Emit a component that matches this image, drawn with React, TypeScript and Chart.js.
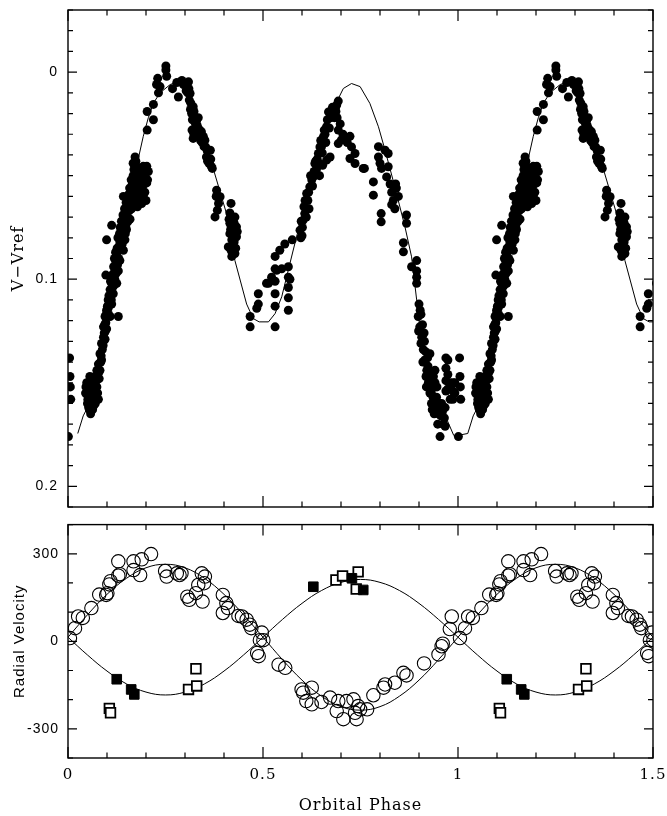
import React, { useEffect, useRef } from "react";
import { Chart, registerables } from "chart.js";

Chart.register(...registerables);

// ---------- Light curve (phase, V - Vref), one orbital cycle ----------
const lightCurve: [number, number][] = [
  [0.001, 0.176], [0.004, 0.138], [0.005, 0.147], [0.006, 0.152], [0.007, 0.158],
  [0.045, 0.155], [0.048, 0.150], [0.050, 0.160], [0.052, 0.157], [0.053, 0.162], [0.056, 0.147], [0.056, 0.154],
  [0.058, 0.165], [0.060, 0.153], [0.061, 0.158], [0.063, 0.163], [0.065, 0.150], [0.065, 0.157], [0.069, 0.147],
  [0.069, 0.153], [0.070, 0.160], [0.074, 0.144], [0.074, 0.152], [0.078, 0.141], [0.078, 0.158], [0.080, 0.148],
  [0.046, 0.152], [0.051, 0.158], [0.055, 0.163], [0.059, 0.161], [0.062, 0.148], [0.066, 0.161], [0.071, 0.149],
  [0.076, 0.155],
  [0.082, 0.136], [0.082, 0.144], [0.086, 0.131], [0.086, 0.139], [0.088, 0.134], [0.091, 0.123], [0.091, 0.128],
  [0.093, 0.126], [0.095, 0.118], [0.095, 0.129], [0.097, 0.121], [0.099, 0.115], [0.099, 0.124], [0.101, 0.113],
  [0.103, 0.110], [0.105, 0.108], [0.108, 0.105], [0.108, 0.118], [0.110, 0.108], [0.112, 0.102], [0.112, 0.112],
  [0.114, 0.104], [0.116, 0.099], [0.116, 0.107], [0.118, 0.097], [0.120, 0.100], [0.121, 0.094], [0.123, 0.092],
  [0.125, 0.089], [0.125, 0.102], [0.127, 0.093], [0.129, 0.086], [0.129, 0.096], [0.131, 0.084], [0.133, 0.082],
  [0.133, 0.091], [0.135, 0.085], [0.136, 0.077], [0.138, 0.079], [0.140, 0.080], [0.142, 0.075], [0.142, 0.086],
  [0.144, 0.073], [0.146, 0.071], [0.146, 0.081], [0.148, 0.074], [0.150, 0.068], [0.150, 0.076], [0.152, 0.070],
  [0.155, 0.065], [0.157, 0.067], [0.159, 0.062], [0.159, 0.071], [0.161, 0.060], [0.163, 0.057], [0.163, 0.066],
  [0.165, 0.054], [0.167, 0.050], [0.167, 0.044], [0.169, 0.047], [0.172, 0.041], [0.172, 0.063],
  [0.084, 0.140], [0.089, 0.131], [0.094, 0.122], [0.098, 0.117], [0.103, 0.114], [0.106, 0.111], [0.109, 0.101],
  [0.113, 0.098], [0.117, 0.094], [0.119, 0.090], [0.122, 0.087], [0.126, 0.085], [0.128, 0.080], [0.132, 0.078],
  [0.134, 0.075], [0.137, 0.072], [0.141, 0.069], [0.145, 0.066], [0.149, 0.063], [0.153, 0.061], [0.156, 0.059],
  [0.158, 0.056], [0.162, 0.052], [0.166, 0.058], [0.160, 0.066], [0.154, 0.072], [0.147, 0.078], [0.139, 0.083],
  [0.130, 0.090], [0.124, 0.097], [0.118, 0.103], [0.111, 0.110], [0.104, 0.117], [0.096, 0.125], [0.090, 0.132],
  [0.085, 0.137], [0.079, 0.145], [0.073, 0.149], [0.067, 0.155], [0.063, 0.152], [0.058, 0.158], [0.054, 0.151],
  [0.097, 0.098], [0.099, 0.081], [0.112, 0.074], [0.129, 0.118], [0.142, 0.060], [0.189, 0.0635],
  [0.172, 0.052], [0.176, 0.0455], [0.176, 0.0535], [0.176, 0.060], [0.178, 0.065], [0.180, 0.050], [0.185, 0.047],
  [0.185, 0.0535], [0.185, 0.057], [0.189, 0.058], [0.193, 0.0455], [0.193, 0.0535], [0.197, 0.0495], [0.197, 0.058],
  [0.200, 0.062], [0.202, 0.0455], [0.202, 0.0535], [0.206, 0.048],
  [0.174, 0.048], [0.182, 0.055], [0.187, 0.051], [0.191, 0.049], [0.195, 0.054], [0.199, 0.052], [0.204, 0.052],
  [0.183, 0.061], [0.179, 0.057], [0.194, 0.061], [0.170, 0.056], [0.174, 0.043],
  [0.203, 0.028], [0.203, 0.019], [0.219, 0.023], [0.219, 0.0156], [0.227, 0.006], [0.230, 0.003], [0.232, 0.010],
  [0.236, 0.007], [0.251, -0.003], [0.251, -0.001], [0.253, 0.002],
  [0.268, 0.008], [0.279, 0.005], [0.283, 0.012], [0.300, 0.0055], [0.303, 0.009], [0.305, 0.007], [0.309, 0.0047],
  [0.311, 0.0135], [0.313, 0.0103], [0.315, 0.015], [0.317, 0.020], [0.321, 0.0167], [0.321, 0.032], [0.325, 0.0216],
  [0.326, 0.028], [0.330, 0.0232], [0.331, 0.0256], [0.336, 0.0312], [0.338, 0.028], [0.342, 0.0288], [0.347, 0.031],
  [0.351, 0.0329], [0.353, 0.0361], [0.355, 0.041], [0.360, 0.0377], [0.362, 0.0441], [0.364, 0.0425], [0.365, 0.0377],
  [0.368, 0.0457], [0.370, 0.0465],
  [0.307, 0.010], [0.310, 0.008], [0.314, 0.018], [0.319, 0.023], [0.323, 0.019], [0.327, 0.025], [0.333, 0.027],
  [0.334, 0.022], [0.340, 0.033], [0.344, 0.034], [0.349, 0.036], [0.357, 0.038], [0.358, 0.043], [0.366, 0.042],
  [0.318, 0.028], [0.323, 0.030], [0.296, 0.006], [0.292, 0.004],
  [0.377, 0.0699], [0.380, 0.060], [0.381, 0.057], [0.383, 0.0667], [0.386, 0.0634], [0.390, 0.0602], [0.411, 0.0844],
  [0.415, 0.068], [0.415, 0.073], [0.415, 0.078], [0.418, 0.0634], [0.418, 0.086], [0.420, 0.081], [0.420, 0.089],
  [0.424, 0.076], [0.424, 0.0844], [0.428, 0.070], [0.428, 0.0876], [0.432, 0.0747], [0.432, 0.0795],
  [0.413, 0.071], [0.417, 0.076], [0.422, 0.079], [0.426, 0.082], [0.430, 0.085], [0.419, 0.084], [0.434, 0.077],
  [0.426, 0.073],
  [0.467, 0.118], [0.467, 0.123], [0.484, 0.114], [0.488, 0.107], [0.488, 0.112], [0.509, 0.102],
  [0.514, 0.102], [0.522, 0.099], [0.531, 0.089], [0.531, 0.095], [0.531, 0.101], [0.531, 0.107], [0.531, 0.113],
  [0.531, 0.123], [0.535, 0.0957], [0.543, 0.086], [0.548, 0.095], [0.556, 0.083], [0.565, 0.094], [0.565, 0.099],
  [0.565, 0.104], [0.565, 0.109], [0.565, 0.115], [0.569, 0.100], [0.575, 0.081],
  [0.595, 0.0763], [0.598, 0.072], [0.600, 0.079], [0.603, 0.0715], [0.607, 0.0683], [0.608, 0.062], [0.610, 0.066],
  [0.612, 0.0586], [0.615, 0.062], [0.620, 0.0554], [0.625, 0.052], [0.629, 0.0506], [0.633, 0.0441], [0.637, 0.047],
  [0.642, 0.0393], [0.646, 0.0361], [0.650, 0.036], [0.655, 0.0312], [0.659, 0.030], [0.663, 0.0264], [0.663, 0.0425],
  [0.668, 0.0192], [0.672, 0.0216], [0.672, 0.041], [0.676, 0.0184], [0.680, 0.020], [0.685, 0.0175], [0.689, 0.0159],
  [0.690, 0.022], [0.693, 0.014],
  [0.597, 0.080], [0.601, 0.075], [0.605, 0.065], [0.611, 0.070], [0.617, 0.058], [0.622, 0.050], [0.627, 0.055],
  [0.631, 0.048], [0.635, 0.043], [0.639, 0.042], [0.644, 0.044], [0.648, 0.033], [0.652, 0.039], [0.657, 0.028],
  [0.661, 0.034], [0.665, 0.023], [0.670, 0.027], [0.674, 0.022], [0.678, 0.017], [0.683, 0.022], [0.687, 0.019],
  [0.645, 0.050], [0.653, 0.045], [0.618, 0.066],
  [0.693, 0.028], [0.693, 0.0345], [0.698, 0.025], [0.701, 0.0328], [0.705, 0.030], [0.710, 0.032], [0.716, 0.034],
  [0.723, 0.031], [0.723, 0.0417], [0.727, 0.0361], [0.736, 0.0393], [0.736, 0.0441], [0.757, 0.0465], [0.760, 0.0465],
  [0.783, 0.053], [0.783, 0.0594], [0.796, 0.036], [0.796, 0.041], [0.800, 0.044], [0.803, 0.0683], [0.803, 0.0723],
  [0.804, 0.0465], [0.813, 0.0377], [0.817, 0.0506], [0.821, 0.0393], [0.821, 0.0457], [0.826, 0.054], [0.830, 0.058],
  [0.830, 0.064], [0.834, 0.062], [0.838, 0.066], [0.840, 0.054], [0.842, 0.056], [0.847, 0.060], [0.860, 0.0824],
  [0.860, 0.0868], [0.868, 0.069], [0.868, 0.073], [0.881, 0.094], [0.894, 0.091], [0.894, 0.096], [0.894, 0.099],
  [0.894, 0.102],
  [0.898, 0.118], [0.900, 0.112], [0.902, 0.123], [0.905, 0.117], [0.905, 0.131], [0.907, 0.128], [0.911, 0.134],
  [0.913, 0.126], [0.915, 0.139], [0.918, 0.147], [0.920, 0.144], [0.922, 0.138], [0.924, 0.150], [0.926, 0.145],
  [0.928, 0.136], [0.928, 0.155], [0.932, 0.160], [0.935, 0.152], [0.936, 0.157], [0.939, 0.165], [0.941, 0.144],
  [0.941, 0.150], [0.945, 0.157], [0.948, 0.170], [0.950, 0.165], [0.954, 0.176], [0.958, 0.160], [0.965, 0.167],
  [0.967, 0.162], [0.967, 0.171],
  [0.899, 0.125], [0.903, 0.115], [0.909, 0.122], [0.910, 0.140], [0.914, 0.130], [0.917, 0.135], [0.919, 0.152],
  [0.923, 0.142], [0.927, 0.150], [0.930, 0.145], [0.931, 0.154], [0.934, 0.163], [0.937, 0.147], [0.940, 0.158],
  [0.943, 0.162], [0.946, 0.152], [0.952, 0.160], [0.956, 0.166], [0.962, 0.170], [0.960, 0.164],
  [0.969, 0.138], [0.969, 0.143], [0.969, 0.149], [0.969, 0.154], [0.974, 0.139], [0.974, 0.146], [0.974, 0.153],
  [0.980, 0.150], [0.980, 0.158], [0.987, 0.150], [0.987, 0.154], [0.987, 0.158], [0.992, 0.150], [0.992, 0.155],
];

// Light-curve model (phase, V - Vref), one cycle
const lightModel: [number, number][] = [
  [0.0, 0.1754], [0.025, 0.1745], [0.039, 0.166], [0.05, 0.162], [0.075, 0.145], [0.1, 0.122], [0.125, 0.097],
  [0.15, 0.073], [0.18, 0.042], [0.193, 0.031], [0.206, 0.022], [0.219, 0.015], [0.236, 0.010], [0.262, 0.006],
  [0.28, 0.0047], [0.3, 0.0055], [0.33, 0.0216], [0.373, 0.047], [0.406, 0.068], [0.428, 0.091], [0.458, 0.112],
  [0.475, 0.119], [0.49, 0.1206], [0.514, 0.1206], [0.531, 0.1166], [0.548, 0.1085], [0.569, 0.0924],
  [0.586, 0.0795], [0.612, 0.0618], [0.633, 0.0473], [0.659, 0.0296], [0.685, 0.0159], [0.706, 0.0079],
  [0.727, 0.0055], [0.749, 0.007], [0.774, 0.0151], [0.796, 0.0264], [0.813, 0.0377], [0.838, 0.0554],
  [0.864, 0.0747], [0.881, 0.0892], [0.894, 0.110], [0.907, 0.131], [0.924, 0.144], [0.95, 0.160], [0.972, 0.168],
  [0.989, 0.1754], [1.0, 0.1754],
];

// ---------- Radial velocities ----------
const rvPrimary: [number, number][] = [
  [0.005, 11], [0.018, 45], [0.026, 85], [0.038, 80], [0.060, 114], [0.080, 160], [0.098, 159], [0.101, 165],
  [0.106, 195], [0.109, 206], [0.129, 225], [0.129, 274], [0.133, 230], [0.168, 244], [0.168, 274], [0.185, 227],
  [0.189, 281], [0.213, 299], [0.249, 241], [0.253, 222], [0.279, 233], [0.286, 227], [0.291, 233], [0.306, 153],
  [0.311, 142], [0.328, 165], [0.334, 193], [0.343, 233], [0.345, 136], [0.349, 199], [0.351, 222], [0.397, 159],
  [0.397, 97], [0.406, 131], [0.410, 114], [0.437, 87], [0.446, 85], [0.458, 74], [0.466, 57], [0.470, 45],
  [0.497, 30], [0.492, 4], [0.501, 4], [0.485, -40], [0.489, -51], [0.540, -80], [0.557, -91], [0.599, -165],
  [0.603, -176], [0.611, -205], [0.625, -159], [0.625, -216], [0.650, -208], [0.672, -193], [0.689, -239],
  [0.693, -205], [0.706, -267], [0.714, -205], [0.732, -199], [0.736, -245], [0.740, -267], [0.744, -222],
  [0.749, -233], [0.767, -233], [0.783, -185], [0.809, -159], [0.813, -148], [0.838, -142], [0.860, -108],
  [0.868, -117], [0.913, -76], [0.950, -45], [0.958, -17], [0.961, -8], [0.979, 42], [0.984, 85],
];
const rvSecondaryOpen: [number, number][] = [
  [0.106, -230], [0.109, -245], [0.309, -165], [0.330, -153], [0.328, -94], [0.687, 210], [0.704, 224],
  [0.739, 179], [0.744, 238],
];
const rvSecondaryFilled: [number, number][] = [
  [0.125, -130], [0.162, -165], [0.170, -182], [0.629, 187], [0.728, 216], [0.757, 176],
];

// Orbit solutions (km/s) at these phases
const rvModelPhase = [0, 0.05, 0.1, 0.15, 0.2, 0.25, 0.3, 0.35, 0.4, 0.45, 0.5, 0.55, 0.6, 0.65, 0.7, 0.75, 0.8, 0.85, 0.9, 0.95, 1.0];
const rvPrimaryModel = [14, 91, 161, 216, 252, 264, 252, 216, 161, 91, 14, -63, -133, -188, -224, -236, -224, -188, -133, -63, 14];
const rvSecondaryModel = [14, -47, -102, -146, -174, -184, -174, -146, -102, -47, 14, 75, 130, 174, 202, 212, 202, 174, 130, 75, 14];

// ---------- Axes ----------
const phaseTicks = [0, 0.5, 1, 1.5];
const lightTicks = [0, 0.1, 0.2];
const rvTicks = [-300, 0, 300];
const xLabel = "Orbital Phase";
const lightLabel = "V\u2212Vref";
const rvLabel = "Radial Velocity";

type P = { x: number; y: number };
const toPts = (a: [number, number][]): P[] => a.map(([x, y]) => ({ x, y }));
// data are phase-folded; the plot repeats phases 0-0.5 at 1-1.5
const repeatHalf = (a: [number, number][]): P[] => [
  ...toPts(a),
  ...a.filter(([x]) => x <= 0.52).map(([x, y]) => ({ x: x + 1, y })),
];

const framePlugin = {
  id: "frame",
  beforeDraw(chart: any) {
    (chart.ctx as any).letterSpacing = "1px";
  },
  afterDatasetsDraw(chart: any, _args: any, opts: any) {
    const { ctx, chartArea: a } = chart;
    const xs = chart.scales.x;
    const ys = chart.scales.y;
    const isMajor = (v: number, m: number) => Math.abs(v / m - Math.round(v / m)) < 1e-6;
    ctx.save();
    ctx.strokeStyle = "#000";
    ctx.lineWidth = 1.2;
    ctx.beginPath();
    const x0 = Math.ceil(xs.min / opts.xMinor - 1e-6);
    const x1 = Math.floor(xs.max / opts.xMinor + 1e-6);
    for (let i = x0; i <= x1; i++) {
      const v = i * opts.xMinor;
      const px = xs.getPixelForValue(v);
      const len = isMajor(v, opts.xMajor) ? 11 : 5.5;
      ctx.moveTo(px, a.top);
      ctx.lineTo(px, a.top + len);
      ctx.moveTo(px, a.bottom);
      ctx.lineTo(px, a.bottom - len);
    }
    const y0 = Math.ceil(ys.min / opts.yMinor - 1e-6);
    const y1 = Math.floor(ys.max / opts.yMinor + 1e-6);
    for (let i = y0; i <= y1; i++) {
      const v = i * opts.yMinor;
      const py = ys.getPixelForValue(v);
      const len = isMajor(v, opts.yMajor) ? 9 : 5;
      ctx.moveTo(a.left, py);
      ctx.lineTo(a.left + len, py);
      ctx.moveTo(a.right, py);
      ctx.lineTo(a.right - len, py);
    }
    ctx.stroke();
    ctx.lineWidth = 1.4;
    ctx.strokeRect(a.left, a.top, a.right - a.left, a.bottom - a.top);
    ctx.restore();
  },
};

const sans = "'Liberation Sans', Arial, sans-serif";
const serif = "'DejaVu Serif', serif";

const noPad = (s: any) => {
  s.paddingTop = 0;
  s.paddingBottom = 0;
  s.paddingLeft = 0;
  s.paddingRight = 0;
};

export default function App() {
  const topRef = useRef<HTMLCanvasElement>(null);
  const botRef = useRef<HTMLCanvasElement>(null);

  useEffect(() => {
    const modelTop: P[] = [
      ...toPts(lightModel.filter(([x]) => x >= 0.02)),
      ...lightModel.filter(([x]) => x <= 0.52).map(([x, y]) => ({ x: x + 1, y })),
    ];
    const c1 = new Chart(topRef.current!, {
      type: "scatter",
      data: {
        datasets: [
          {
            data: repeatHalf(lightCurve),
            pointRadius: 4.5,
            pointBackgroundColor: "#000",
            pointBorderWidth: 0,
            clip: 0,
          } as any,
          {
            data: modelTop,
            showLine: true,
            borderColor: "#000",
            borderWidth: 1,
            pointRadius: 0,
            tension: 0,
            clip: 0,
          } as any,
        ],
      },
      options: {
        animation: false,
        responsive: false,
        events: [],
        layout: { padding: { left: 0, right: 14, top: 10, bottom: 0 } },
        plugins: {
          legend: { display: false },
          tooltip: { enabled: false },
          frame: { xMinor: 0.1, xMajor: 0.5, yMinor: 0.01, yMajor: 0.1 },
        } as any,
        scales: {
          x: {
            type: "linear",
            min: 0,
            max: 1.5,
            grid: { display: false, drawTicks: false },
            border: { display: false },
            ticks: { display: false },
            afterFit: (s: any) => {
              s.height = 9;
              noPad(s);
            },
          },
          y: {
            type: "linear",
            reverse: true,
            min: -0.03,
            max: 0.21,
            grid: { display: false, drawTicks: false },
            border: { display: false },
            afterBuildTicks: (s: any) => {
              s.ticks = lightTicks.map((v) => ({ value: v }));
            },
            ticks: {
              padding: 10,
              color: "#000",
              font: { family: sans, size: 14 },
              callback: (v: any) => String(Math.round(Number(v) * 100) / 100),
            },
            title: {
              display: true,
              text: lightLabel,
              color: "#000",
              font: { family: serif, size: 16 },
              padding: { top: 9, bottom: 0 },
            },
            afterFit: (s: any) => {
              s.width = 68;
              noPad(s);
            },
          },
        },
      } as any,
      plugins: [framePlugin],
    });

    const modelPts = (vals: number[]): P[] => [
      ...rvModelPhase.map((x, i) => ({ x, y: vals[i] })),
      ...rvModelPhase.slice(1, 11).map((x, i) => ({ x: x + 1, y: vals[i + 1] })),
    ];

    const c2 = new Chart(botRef.current!, {
      type: "scatter",
      data: {
        datasets: [
          {
            data: repeatHalf(rvSecondaryFilled),
            pointStyle: "rect",
            pointRadius: 6.8,
            pointBackgroundColor: "#000",
            pointBorderColor: "#000",
            pointBorderWidth: 1,
            clip: 0,
          } as any,
          {
            data: repeatHalf(rvSecondaryOpen),
            pointStyle: "rect",
            pointRadius: 6.8,
            pointBackgroundColor: "#fff",
            pointBorderColor: "#000",
            pointBorderWidth: 1.8,
            clip: 0,
          } as any,
          {
            data: repeatHalf(rvPrimary),
            pointStyle: "circle",
            pointRadius: 6.7,
            pointBackgroundColor: "rgba(0,0,0,0)",
            pointBorderColor: "#000",
            pointBorderWidth: 1.1,
            clip: 0,
          } as any,
          {
            data: modelPts(rvPrimaryModel),
            showLine: true,
            borderColor: "#000",
            borderWidth: 1,
            pointRadius: 0,
            tension: 0.4,
            clip: 0,
          } as any,
          {
            data: modelPts(rvSecondaryModel),
            showLine: true,
            borderColor: "#000",
            borderWidth: 1,
            pointRadius: 0,
            tension: 0.4,
            clip: 0,
          } as any,
        ],
      },
      options: {
        animation: false,
        responsive: false,
        events: [],
        layout: { padding: { left: 0, right: 14, top: 8, bottom: 0 } },
        plugins: {
          legend: { display: false },
          tooltip: { enabled: false },
          frame: { xMinor: 0.1, xMajor: 0.5, yMinor: 100, yMajor: 300 },
        } as any,
        scales: {
          x: {
            type: "linear",
            min: 0,
            max: 1.5,
            grid: { display: false, drawTicks: false },
            border: { display: false },
            afterBuildTicks: (s: any) => {
              s.ticks = phaseTicks.map((v) => ({ value: v }));
            },
            ticks: {
              padding: 8,
              autoSkip: false,
              maxRotation: 0,
              color: "#000",
              font: { family: serif, size: 15 },
              callback: (v: any) => String(v),
            },
            title: {
              display: true,
              text: xLabel,
              color: "#000",
              font: { family: serif, size: 16 },
              padding: { top: 0, bottom: 1 },
            },
            afterFit: (s: any) => {
              s.height = 58;
              noPad(s);
            },
          },
          y: {
            type: "linear",
            min: -400,
            max: 400,
            grid: { display: false, drawTicks: false },
            border: { display: false },
            afterBuildTicks: (s: any) => {
              s.ticks = rvTicks.map((v) => ({ value: v }));
            },
            ticks: {
              padding: 9,
              color: "#000",
              font: { family: sans, size: 14 },
              callback: (v: any) => String(v),
            },
            title: {
              display: true,
              text: rvLabel,
              color: "#000",
              font: { family: sans, size: 15 },
              padding: { top: 11, bottom: 0 },
            },
            afterFit: (s: any) => {
              s.width = 68;
              noPad(s);
            },
          },
        },
      } as any,
      plugins: [framePlugin],
    });

    return () => {
      c1.destroy();
      c2.destroy();
    };
  }, []);

  return (
    <div style={{ position: "absolute", left: 0, top: 0, width: 667, height: 816, background: "#fff" }}>
      <canvas ref={topRef} width={667} height={516} style={{ position: "absolute", left: 0, top: 0, width: 667, height: 516 }} />
      <canvas ref={botRef} width={667} height={300} style={{ position: "absolute", left: 0, top: 516, width: 667, height: 300 }} />
    </div>
  );
}
